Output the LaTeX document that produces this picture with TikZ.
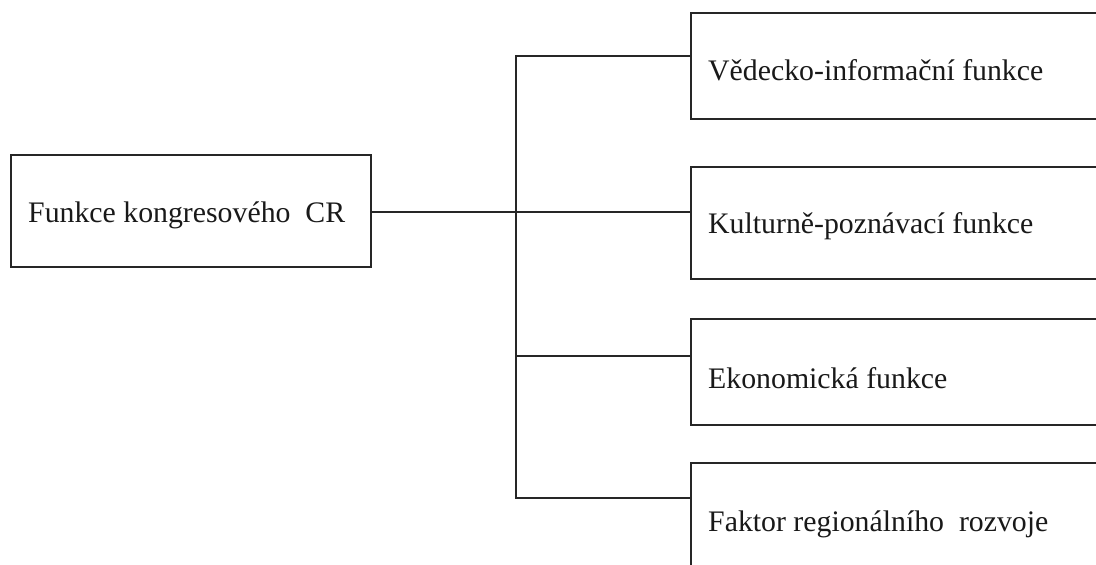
\documentclass[tikz,border=0pt]{standalone}
\usepackage{fontspec}
\setmainfont{Liberation Serif}
\tikzset{
  box/.style={draw=black!85, line width=1.8pt, rectangle, inner sep=0pt},
  lbl/.style={inner sep=0pt, anchor=base west, font=\fontsize{29.8}{34}\selectfont, text=black!90},
  conn/.style={draw=black!85, line width=1.8pt}
}
\begin{document}
\begin{tikzpicture}[x=1pt,y=-1pt]
\useasboundingbox (0,0) rectangle (1096,565);
\clip (0,0) rectangle (1096,565);
% boxes
\node[box, minimum width=360, minimum height=112, anchor=north west] (root) at (10,154) {};
\node[box, minimum width=430, minimum height=106, anchor=north west] (b1) at (690,12) {};
\node[box, minimum width=430, minimum height=112, anchor=north west] (b2) at (690,166) {};
\node[box, minimum width=430, minimum height=106, anchor=north west] (b3) at (690,318) {};
\node[box, minimum width=430, minimum height=130, anchor=north west] (b4) at (690,462) {};
% labels
\node[lbl] (troot) at (28,222) {Funkce kongresového\ \ CR};
\node[lbl] (t1) at (708,80) {Vědecko-informační funkce};
\node[lbl] (t2) at (708,233) {Kulturně-poznávací funkce};
\node[lbl] (t3) at (708,388) {Ekonomická funkce};
\node[lbl] (t4) at (708,531) {Faktor regionálního\ \ rozvoje};
% connector anchors
\coordinate (c1) at (690,56);
\coordinate (c2) at (690,212);
\coordinate (c3) at (690,356);
\coordinate (c4) at (690,498);
\coordinate (tr) at (516,0);
% connectors
\draw[conn] (c1) -- (c1 -| tr) -- (c4 -| tr) -- (c4);
\draw[conn] (root.east |- c2) -- (c2);
\draw[conn] (c3 -| tr) -- (c3);
\end{tikzpicture}
\end{document}
